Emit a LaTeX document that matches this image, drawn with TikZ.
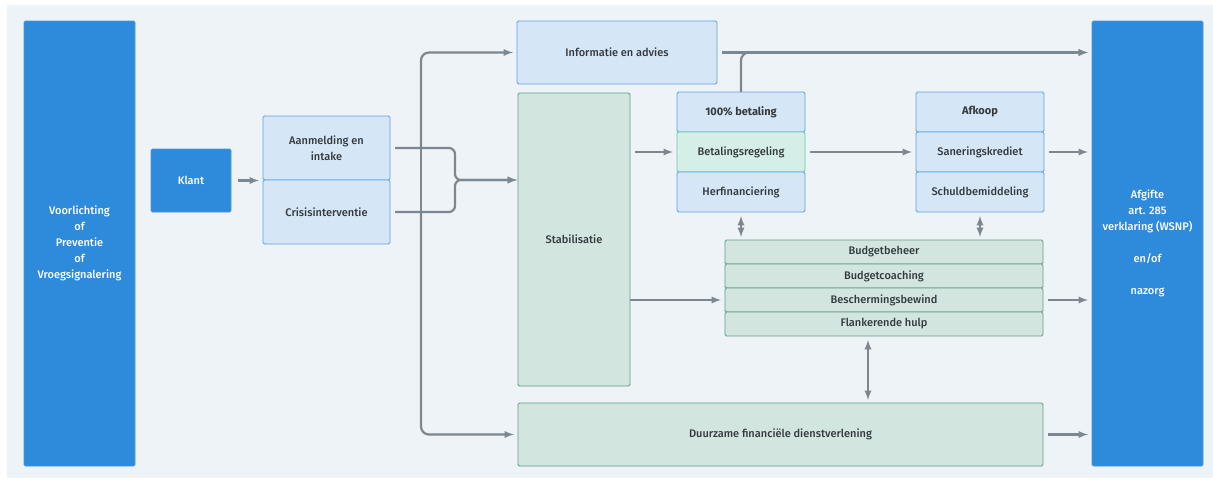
\documentclass[tikz,border=0pt]{standalone}
\usepackage{fontspec}
\setmainfont{Fira Sans}[UprightFont={* Medium}, BoldFont={* Bold}]
\usetikzlibrary{arrows,positioning}
\definecolor{paneel}{HTML}{EEF3F7}
\definecolor{blauw}{HTML}{2E8ADA}
\definecolor{blauwrand}{HTML}{4698E0}
\definecolor{lichtblauw}{HTML}{D5E6F6}
\definecolor{lichtrand}{HTML}{5EA2E3}
\definecolor{lichtgroen}{HTML}{D3E5DF}
\definecolor{groenrand}{HTML}{5E9F86}
\definecolor{tealvak}{HTML}{D5EFE8}
\definecolor{tealrand}{HTML}{62C9AD}
\definecolor{pijlgrijs}{HTML}{7D8790}
\definecolor{tekst}{HTML}{34393E}

\begin{document}
\begin{tikzpicture}[x=1pt,y=-1pt,
    every node/.style={font=\fontsize{11}{16}\selectfont, text=tekst, align=center, inner sep=2pt, outer sep=0pt},
    blok/.style={draw=blauwrand, fill=blauw, text=white, rounded corners=1.5pt, line width=0.8pt},
    licht/.style={draw=lichtrand, fill=lichtblauw, rounded corners=1.5pt, line width=0.8pt},
    groen/.style={draw=groenrand, fill=lichtgroen, rounded corners=1.5pt, line width=0.8pt},
    teal/.style={draw=tealrand, fill=tealvak, rounded corners=1.5pt, line width=0.8pt},
    rij/.style={minimum width=128pt, minimum height=40pt},
    budget/.style={groen, minimum width=318pt, minimum height=24pt},
    pijl/.style={->, >=latex, draw=pijlgrijs, line width=2.2pt, shorten >=4pt, shorten <=5pt},
    dubbel/.style={<->, >=latex, draw=pijlgrijs, line width=2.2pt, shorten >=3pt, shorten <=4pt},
    lijn/.style={draw=pijlgrijs, line width=2.2pt}]
        \useasboundingbox (0,0) rectangle (1213,479);
        \fill[white] (0,0) rectangle (1213,479);
        \fill[paneel] (7,5) rectangle (1213,478);

        \node[blok, minimum width=111pt, minimum height=445pt] (voorlichting) at (79.5,243.5) {Voorlichting\\of\\Preventie\\of\\Vroegsignalering};
        \node[blok, minimum width=80pt, minimum height=63pt] (klant) at (191,180.5) {Klant};
        \node[licht, minimum width=127pt, minimum height=64pt] (aanmelding) at (326.5,148) {Aanmelding en\\intake};
        \node[licht, minimum width=127pt, minimum height=64pt, below=0pt of aanmelding] (crisis) {Crisisinterventie};
        \node[licht, minimum width=200pt, minimum height=63pt] (informatie) at (617,52.5) {Informatie en advies};
        \node[groen, minimum width=112pt, minimum height=293pt] (stabilisatie) at (574,239.5) {Stabilisatie};
        \node[licht, rij] (betaling) at (741,112) {\bfseries 100\% betaling};
        \node[teal, rij, below=0pt of betaling] (regeling) {Betalingsregeling};
        \node[licht, rij, below=0pt of regeling] (herfinanciering) {Herfinanciering};
        \node[licht, rij] (afkoop) at (980,112) {\bfseries Afkoop};
        \node[licht, rij, below=0pt of afkoop] (krediet) {Saneringskrediet};
        \node[licht, rij, below=0pt of krediet] (schuld) {Schuldbemiddeling};
        \node[budget] (beheer) at (884,252) {Budgetbeheer};
        \node[budget, below=0pt of beheer] (coaching) {Budgetcoaching};
        \node[budget, below=0pt of coaching] (bewind) {Beschermingsbewind};
        \node[budget, below=0pt of bewind] (hulp) {Flankerende hulp};
        \node[groen, minimum width=525pt, minimum height=63pt] (duurzame) at (780.5,434.5) {Duurzame financiële dienstverlening};
        \node[blok, minimum width=111pt, minimum height=445pt] (afgifte) at (1147.5,243.5) {Afgifte\\art. 285\\verklaring (WSNP)\\[16pt]en/of\\[16pt]nazorg};

        \coordinate (splitsing) at (421,180);
        \coordinate (accolade) at (455,180);
        \coordinate (hulpvoet) at ([xshift=-16pt]hulp.south);

        \draw[pijl, shorten <=7pt] (klant.east) -- (klant.east -| aanmelding.west);
        \draw[lijn, shorten <=5pt] (aanmelding.east) -- (aanmelding.east -| splitsing);
        \draw[lijn, shorten <=5pt] (crisis.east) -- (crisis.east -| splitsing);
        \draw[lijn] (aanmelding.east -| splitsing) -- (crisis.east -| splitsing);
        \draw[pijl, rounded corners=8pt, shorten <=0pt] (aanmelding.east -| splitsing) |- (informatie.west);
        \draw[pijl, rounded corners=8pt, shorten <=0pt] (crisis.east -| splitsing) |- (duurzame.west);
        \draw[pijl, rounded corners=6pt, shorten >=1pt] (aanmelding.east) -| (accolade) -- (stabilisatie.west |- accolade);
        \draw[pijl, rounded corners=6pt, shorten >=1pt] (crisis.east) -| (accolade) -- (stabilisatie.west |- accolade);
        \draw[pijl] (informatie.east) -- (informatie.east -| afgifte.west);
        \draw[pijl, rounded corners=8pt, shorten <=0pt] (betaling.north) |- (informatie.east -| afgifte.west);
        \draw[pijl] (stabilisatie.east |- regeling.west) -- (regeling.west);
        \draw[pijl] (regeling.east) -- (krediet.west);
        \draw[pijl] (krediet.east) -- (krediet.east -| afgifte.west);
        \draw[pijl, shorten <=0pt] (stabilisatie.east |- bewind.west) -- (bewind.west);
        \draw[pijl] (bewind.east) -- (bewind.east -| afgifte.west);
        \draw[pijl] (duurzame.east) -- (duurzame.east -| afgifte.west);
        \draw[dubbel] (herfinanciering.south) -- (herfinanciering.south |- beheer.north);
        \draw[dubbel] (schuld.south) -- (schuld.south |- beheer.north);
        \draw[dubbel] (hulpvoet) -- (hulpvoet |- duurzame.north);
\end{tikzpicture}
\end{document}
